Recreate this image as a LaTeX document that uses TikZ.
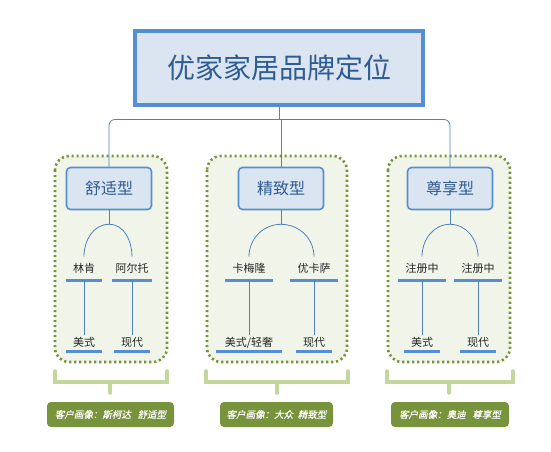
\documentclass[tikz,border=0pt]{standalone}
\usepackage{fontspec}
\setmainfont{Noto Sans CJK SC}
\newfontfamily\lblfont[FakeSlant=0.2,FakeBold=0.6]{Noto Sans CJK SC}
\definecolor{rootborder}{HTML}{558ED5}
\definecolor{rootfill}{HTML}{DBE5F1}
\definecolor{titletext}{HTML}{2F5C92}
\definecolor{linecol}{HTML}{4F81BD}
\definecolor{ulcol}{HTML}{558ED5}
\definecolor{grpfill}{HTML}{F1F5E9}
\definecolor{grpborder}{HTML}{77933C}
\definecolor{brk}{HTML}{C3D69B}
\definecolor{lblfill}{HTML}{77933C}
\definecolor{subtext}{HTML}{262626}
\tikzset{
  rootbox/.style={draw=rootborder,line width=4pt,fill=rootfill,minimum width=288pt,minimum height=73pt,inner sep=0pt,text=titletext,font=\fontsize{28}{28}\selectfont},
  childbox/.style={draw=rootborder,line width=1.6pt,fill=rootfill,rounded corners=4pt,minimum width=85pt,minimum height=42pt,inner sep=0pt,text=titletext,font=\fontsize{16}{16}\selectfont},
  conn/.style={draw=linecol,line width=0.8pt},
  ulabel/.style={anchor=south,inner sep=0pt,text=subtext,font=\fontsize{11}{11}\selectfont},
  uline/.style={draw=ulcol,line width=3pt},
  grp/.style={draw=grpborder,fill=grpfill,line width=2.6pt,dash pattern=on 2.2pt off 2.8pt,rounded corners=14pt},
  bracketline/.style={draw=brk,line width=3.5pt,line cap=round},
  lblbox/.style={fill=lblfill,rounded corners=4pt,inner sep=0pt,text=white,font=\lblfont\fontsize{9.5}{9.5}\selectfont},
}
\begin{document}
\begin{tikzpicture}[x=1pt,y=-1pt]
\useasboundingbox (0,0) rectangle (551,452);
% groups
\path[grp] (55,156) rectangle (167,362);
\path[grp] (207,156) rectangle (347,362);
\path[grp] (388,156) rectangle (510,362);
% root
\node[rootbox] (root) at (279,68) {优家家居品牌定位};
% children
\node[childbox] (c1) at (109,188.5) {舒适型};
\node[childbox] (c2) at (281,188.5) {精致型};
\node[childbox] (c3) at (450,188.5) {尊享型};
% root connectors
\draw[conn] (root.south) -- ++(0,13) coordinate (j);
\draw[conn,rounded corners=6pt] (c1.north) |- (j) -| (c3.north);
\draw[conn] (j -| c2.north) -- (c2.north);
% sub labels, first row
\node[ulabel,minimum width=36pt,minimum height=23pt] (a1) at (84,280) {林肯};
\node[ulabel,minimum width=40pt,minimum height=23pt] (b1) at (132,280) {阿尔托};
\node[ulabel,minimum width=48pt,minimum height=23pt] (a2) at (249,280) {卡梅隆};
\node[ulabel,minimum width=48pt,minimum height=23pt] (b2) at (314,280) {优卡萨};
\node[ulabel,minimum width=48pt,minimum height=23pt] (a3) at (422,280) {注册中};
\node[ulabel,minimum width=48pt,minimum height=23pt] (b3) at (478,280) {注册中};
% second row
\node[ulabel,minimum width=36pt,minimum height=16pt] (d1) at (84,351) {美式};
\node[ulabel,minimum width=36pt,minimum height=16pt] (e1) at (132,351) {现代};
\node[ulabel,minimum width=65pt,minimum height=16pt] (d2) at (249,351) {美式/轻奢};
\node[ulabel,minimum width=36pt,minimum height=16pt] (e2) at (314,351) {现代};
\node[ulabel,minimum width=36pt,minimum height=16pt] (d3) at (422,351) {美式};
\node[ulabel,minimum width=36pt,minimum height=16pt] (e3) at (478,351) {现代};
% underlines
\foreach \n in {a1,b1,a2,b2,a3,b3,d1,e1,d2,e2,d3,e3}{
  \draw[uline] (\n.south west) -- (\n.south east);
}
% fork connectors
\foreach \i in {1,2,3}{
  \draw[conn] (c\i.south) -- ++(0,14) coordinate (t\i);
  \draw[conn] (a\i.north) to[out=90,in=180] (t\i) to[out=0,in=90] (b\i.north);
  \draw[conn] (a\i.south) -- (d\i.north);
  \draw[conn] (b\i.south) -- (e\i.north);
}
% brackets
\draw[bracketline] (55,371) |- (167,382) -- (167,371);
\draw[bracketline] (110,382) -- (110,393);
\draw[bracketline] (206,371) |- (348,382) -- (348,371);
\draw[bracketline] (277,382) -- (277,393);
\draw[bracketline] (387,371) |- (513,382) -- (513,371);
\draw[bracketline] (449,382) -- (449,393);
% labels
\node[lblbox,minimum width=127pt,minimum height=25pt] (l1) at (110.5,414.5) {客户画像：斯柯达\hspace{0.7em}舒适型};
\node[lblbox,minimum width=113pt,minimum height=25pt] (l2) at (276.5,414.5) {客户画像：大众\hspace{0.5em}精致型};
\node[lblbox,minimum width=118pt,minimum height=25pt] (l3) at (450,414.5) {客户画像：奥迪\hspace{0.7em}尊享型};
\end{tikzpicture}
\end{document}
